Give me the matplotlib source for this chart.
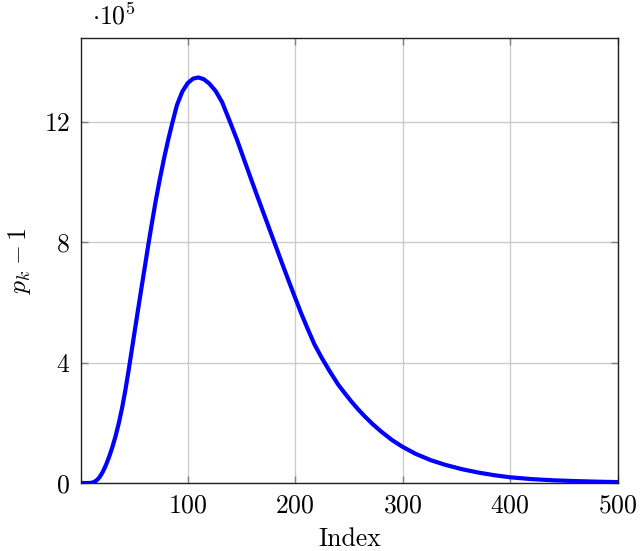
import matplotlib
matplotlib.use("Agg")
import matplotlib.pyplot as plt
import numpy as np

plt.rcParams['font.family'] = 'serif'
plt.rcParams['font.serif'] = ['cmr10']
plt.rcParams['mathtext.fontset'] = 'cm'
plt.rcParams['axes.formatter.use_mathtext'] = True

# values (y in units of 10^5)
index = [1, 5, 9, 12, 15, 18, 21, 24, 27, 30, 33, 36, 39, 42, 45, 48, 51, 54,
         57, 60, 63, 66, 70, 74, 78, 82, 86, 90, 95, 100, 105, 110, 115, 120,
         126, 132, 139, 146, 152, 158, 164, 170, 176, 182, 188, 194, 200, 206,
         212, 218, 225, 232, 240, 246, 252, 258, 264, 272, 280, 290, 300, 312,
         326, 340, 355, 370, 385, 400, 420, 440, 460, 480, 500]
pk_minus_1 = [0.0, 0.0, 0.0, 0.02, 0.08, 0.19, 0.37, 0.6, 0.88, 1.2, 1.57, 2.0,
              2.5, 3.08, 3.73, 4.42, 5.11, 5.8, 6.48, 7.15, 7.83, 8.48, 9.32,
              10.08, 10.78, 11.42, 12.0, 12.55, 13.0, 13.28, 13.43, 13.47,
              13.41, 13.27, 13.02, 12.65, 12.03, 11.39, 10.79, 10.19, 9.6, 9.02,
              8.44, 7.86, 7.28, 6.71, 6.15, 5.6, 5.09, 4.6, 4.14, 3.72, 3.27,
              2.99, 2.72, 2.47, 2.24, 1.96, 1.71, 1.43, 1.2, 0.97, 0.76, 0.6,
              0.46, 0.35, 0.26, 0.19, 0.13, 0.09, 0.065, 0.045, 0.03]

x_ticks = [100, 200, 300, 400, 500]
y_ticks = [0, 4, 8, 12]

fig = plt.figure(figsize=(6.4, 5.51), dpi=100)
ax = fig.add_axes([0.127, 0.1234, 0.838, 0.8071])

ax.plot(index, pk_minus_1, color=(0, 0, 1), linewidth=3.0,
        solid_joinstyle='round', solid_capstyle='round', zorder=3)

ax.set_xlim(1, 500)
ax.set_ylim(0, 14.77)
ax.set_xticks(x_ticks)
ax.set_yticks(y_ticks)
ax.grid(True, color='#cccccc', linewidth=1.0)
ax.set_axisbelow(True)

ax.tick_params(direction='in', length=5, width=1, color='#808080',
               top=True, right=True, labelsize=18.5, pad=8)
for s in ax.spines.values():
    s.set_linewidth(1.0)
    s.set_color('#202020')

ax.set_xlabel("Index", fontsize=18.5, labelpad=7)
ax.set_ylabel(r"$p_k - 1$", fontsize=18.5, labelpad=8)
ax.text(0.02, 1.02, r"$\cdot 10^5$", transform=ax.transAxes, fontsize=18.5,
        ha='left', va='bottom')

fig.savefig("out.png", dpi=100)
